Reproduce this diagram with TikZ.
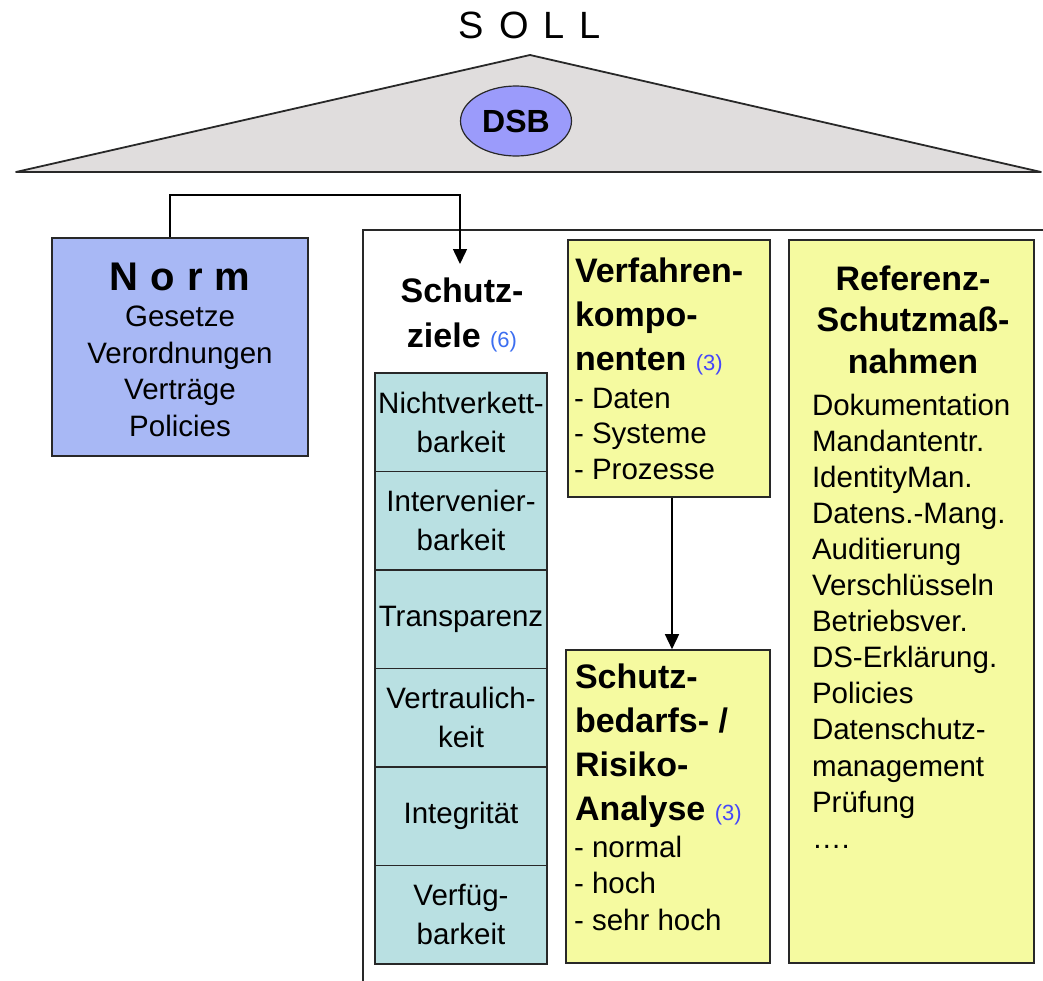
\documentclass[tikz,border=0pt]{standalone}
\usepackage{fontspec}
\setmainfont{Liberation Sans}
\usetikzlibrary{arrows.meta,shapes.geometric}
\definecolor{roofc}{RGB}{224,221,221}
\definecolor{dsbc}{RGB}{155,155,251}
\definecolor{normc}{RGB}{168,184,245}
\definecolor{cellc}{RGB}{185,224,226}
\definecolor{yelc}{RGB}{245,250,160}
\definecolor{edgec}{RGB}{40,40,40}
\definecolor{numA}{RGB}{60,110,240}
\definecolor{numB}{RGB}{70,70,250}
\newcommand{\fsz}[2]{\fontsize{#1}{#2}\selectfont}
\begin{document}
\begin{tikzpicture}[x=1pt,y=-1pt,
  boxst/.style={draw=edgec,line width=1.6pt,inner sep=0pt,rectangle},
  cellst/.style={boxst,fill=cellc,minimum width=172pt,minimum height=98.5pt,
     align=center,font=\fsz{29.5}{39}},
  txt/.style={inner sep=0pt,outer sep=0pt},
  conn/.style={line width=1.5pt,black},
  arr/.style={conn,-{Triangle[width=14pt,length=15pt]}}]
\useasboundingbox (0,0) rectangle (1043,980);
% roof
\draw[fill=roofc,draw=edgec,line width=1.8pt,line join=round] (16,172) -- (530,55) -- (1041,172) -- cycle;
\node[txt,anchor=base,font=\fsz{38}{38}] (soll) at (530,38) {S\hspace{15pt}O\hspace{15pt}L\hspace{15pt}L};
\node[ellipse,draw=edgec,line width=1.2pt,fill=dsbc,minimum width=111pt,minimum height=70pt,inner sep=0pt,
      font=\fsz{32}{32}\bfseries] (dsb) at (516,121) {DSB};
% big frame
\draw[line width=1.5pt,draw=edgec] (363,982) -- (363,230) -- (1045,230);
% Norm
\node[boxst,fill=normc,minimum width=256pt,minimum height=218pt] (norm) at (180,347) {};
\node[txt,anchor=base,font=\fsz{29.5}{36.5}] (normT) at (180,290)
  {\begin{tabular}[t]{@{}c@{}}{\fsz{40}{36}\bfseries N\hspace{12pt}o\hspace{12pt}r\hspace{12pt}m}\\ Gesetze\\ Verordnungen\\ Verträge\\ Policies\end{tabular}};
% Schutzziele
\node[txt,anchor=base,font=\fsz{34}{45}\bfseries] (szH) at (462,302)
  {\begin{tabular}[t]{@{}c@{}}Schutz-\\ ziele {\fsz{22}{22}\mdseries\color{numA}(6)}\end{tabular}};
\node[cellst] (c1) at (461,422.25) {Nichtverkett-\\barkeit};
\node[cellst] (c2) at (461,520.75) {Intervenier-\\barkeit};
\node[cellst] (c3) at (461,619.25) {Transparenz};
\node[cellst] (c4) at (461,717.75) {Vertraulich-\\keit};
\node[cellst] (c5) at (461,816.25) {Integrität};
\node[cellst] (c6) at (461,914.75) {Verfüg-\\barkeit};
% Verfahrenkomponenten
\node[boxst,fill=yelc,minimum width=202pt,minimum height=257pt] (vk) at (669,368.5) {};
\node[txt,anchor=base west,font=\fsz{34}{44}\bfseries] (vkH) at (575,282)
  {\begin{tabular}[t]{@{}l@{}}Verfahren-\\ kompo-\\ nenten {\fsz{22}{22}\mdseries\color{numB}(3)}\end{tabular}};
\node[txt,anchor=base west,font=\fsz{29.5}{35.5}] (vkI) at (574,408)
  {\begin{tabular}[t]{@{}l@{}}- Daten\\ - Systeme\\ - Prozesse\end{tabular}};
% Schutzbedarf
\node[boxst,fill=yelc,minimum width=204pt,minimum height=313pt] (sb) at (668,806.5) {};
\node[txt,anchor=base west,font=\fsz{34}{44}\bfseries] (sbH) at (575,688)
  {\begin{tabular}[t]{@{}l@{}}Schutz-\\ bedarfs- /\\ Risiko-\\ Analyse {\fsz{22}{22}\mdseries\color{numB}(3)}\end{tabular}};
\node[txt,anchor=base west,font=\fsz{29.5}{36.5}] (sbI) at (574,857)
  {\begin{tabular}[t]{@{}l@{}}- normal\\ - hoch\\ - sehr hoch\end{tabular}};
% Referenz
\node[boxst,fill=yelc,minimum width=245pt,minimum height=723pt] (ref) at (911.5,601.5) {};
\node[txt,anchor=base,font=\fsz{34}{41.5}\bfseries] (refH) at (913,290)
  {\begin{tabular}[t]{@{}c@{}}Referenz-\\ Schutzmaß-\\ nahmen\end{tabular}};
\node[txt,anchor=base west,font=\fsz{29.5}{36.1}] (refI) at (812,415)
  {\begin{tabular}[t]{@{}l@{}}Dokumentation\\ Mandantentr.\\ IdentityMan.\\ Datens.-Mang.\\ Auditierung\\ Verschlüsseln\\ Betriebsver.\\ DS-Erklärung.\\ Policies\\ Datenschutz-\\ management\\ Prüfung\\ ….\end{tabular}};
% connectors
\draw[arr] ([xshift=-10pt]norm.north) -- ++(0,-42) -| ([xshift=-2pt,yshift=6.5pt]szH.north);
\draw[arr] ([xshift=3pt]vk.south) -- ([xshift=4pt]sb.north);
\end{tikzpicture}
\end{document}
